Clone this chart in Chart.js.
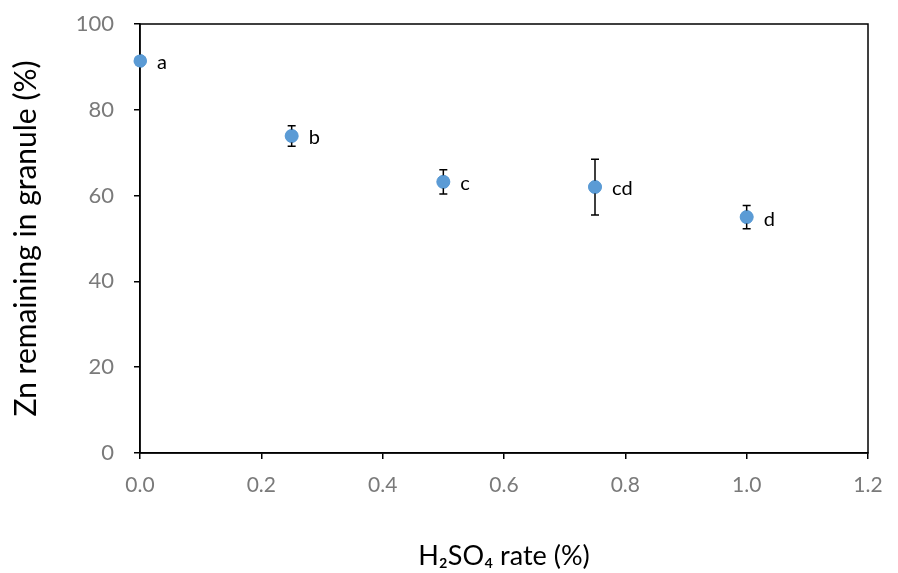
<!DOCTYPE html>
<html>
<head>
<meta charset="utf-8">
<script src="https://cdn.jsdelivr.net/npm/chart.js@4/dist/chart.umd.min.js"></script>
<style>
  html, body { margin: 0; padding: 0; background: #fff; }
  #wrap { width: 898px; height: 573px; }
</style>
</head>
<body>
<div id="wrap"><canvas id="chart"></canvas></div>
<script>
// data
var rates = [0, 0.25, 0.5, 0.75, 1.0];
var znRemaining = [91.4, 73.9, 63.2, 62.0, 55.0];
var errors = [0, 2.4, 2.8, 6.5, 2.7];
var letters = ["a", "b", "c", "cd", "d"];

var font = "Lato, 'Open Sans', sans-serif";

// draws the frame, error bars and letter labels
var extras = {
    id: "extras",
    afterDatasetsDraw: function (chart) {
        var ctx = chart.ctx;
        var xs = chart.scales.x;
        var ys = chart.scales.y;
        var a = chart.chartArea;
        ctx.save();
        ctx.strokeStyle = "#000";
        ctx.lineWidth = 1.5;
        ctx.strokeRect(a.left, a.top, a.right - a.left, a.bottom - a.top);

        for (var i = 0; i < rates.length; i++) {
            if (!errors[i]) continue;
            var px = xs.getPixelForValue(rates[i]);
            var top = ys.getPixelForValue(znRemaining[i] + errors[i]);
            var bot = ys.getPixelForValue(znRemaining[i] - errors[i]);
            ctx.beginPath();
            ctx.moveTo(px, top); ctx.lineTo(px, bot);
            ctx.moveTo(px - 4, top); ctx.lineTo(px + 4, top);
            ctx.moveTo(px - 4, bot); ctx.lineTo(px + 4, bot);
            ctx.stroke();
        }
        // redraw points on top of the bars
        var meta = chart.getDatasetMeta(0);
        meta.data.forEach(function (pt) {
            ctx.beginPath();
            ctx.fillStyle = "#5b9bd5";
            ctx.arc(pt.x, pt.y, 6.5, 0, Math.PI * 2);
            ctx.fill();
        });

        ctx.fillStyle = "#000";
        ctx.font = "20px " + font;
        ctx.textBaseline = "middle";
        for (var j = 0; j < rates.length; j++) {
            var lx = xs.getPixelForValue(rates[j]) + 17;
            var ly = ys.getPixelForValue(znRemaining[j]) + 2;
            ctx.fillText(letters[j], lx, ly);
        }
        ctx.restore();
    }
};

var points = rates.map(function (r, i) { return { x: r, y: znRemaining[i] }; });

new Chart(document.getElementById("chart"), {
    type: "scatter",
    data: {
        datasets: [{
            data: points,
            backgroundColor: "#5b9bd5",
            borderColor: "#5b9bd5",
            pointRadius: 6.5,
            pointHoverRadius: 6.5
        }]
    },
    options: {
        responsive: true,
        maintainAspectRatio: false,
        animation: false,
        layout: { padding: { left: 0, right: 30, top: 24, bottom: 0 } },
        plugins: { legend: { display: false }, tooltip: { enabled: false } },
        scales: {
            x: {
                min: 0, max: 1.2,
                ticks: {
                    stepSize: 0.2,
                    color: "#7a7a7a",
                    padding: 14,
                    font: { family: font, size: 21 },
                    callback: function (v) { return v.toFixed(1); }
                },
                grid: { display: true, drawOnChartArea: false, drawTicks: true, tickLength: 6, color: "#000", lineWidth: 1.5 },
                border: { display: true, color: "#000", width: 1.5 },
                title: {
                    display: true,
                    text: "H\u2082SO\u2084 rate (%)",
                    color: "#000",
                    font: { family: font, size: 27 },
                    padding: { top: 20, bottom: 1 }
                },
                afterFit: function (s) { s.height = 120; s.paddingLeft = 0; s.paddingRight = 0; }
            },
            y: {
                min: 0, max: 100,
                ticks: {
                    stepSize: 20,
                    color: "#7a7a7a",
                    padding: 20,
                    font: { family: font, size: 22 }
                },
                grid: { display: true, drawOnChartArea: false, drawTicks: true, tickLength: 6, color: "#000", lineWidth: 1.5 },
                border: { display: true, color: "#000", width: 1.5 },
                title: {
                    display: true,
                    text: "Zn remaining in granule (%)",
                    color: "#000",
                    font: { family: font, size: 30 },
                    padding: { top: 8, bottom: 0 }
                },
                afterFit: function (s) { s.width = 140; s.paddingTop = 0; s.paddingBottom = 0; }
            }
        }
    },
    plugins: [extras]
});
</script>
</body>
</html>
